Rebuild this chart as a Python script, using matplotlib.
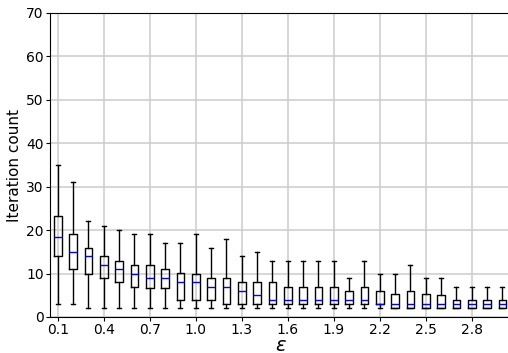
import matplotlib
matplotlib.use("Agg")
import matplotlib.pyplot as plt

eps = [round(0.1 * i, 1) for i in range(1, 31)]

# box stats (whisker low, Q1, median, Q3, whisker high)
w_low = [3, 3, 2, 2, 2, 2, 2, 2, 2, 2,
         2, 2, 2, 2, 2, 2, 2, 2, 2, 2,
         2, 2, 2, 2, 2, 2, 2, 2, 2, 2]
q1 = [14, 11, 10, 9, 8, 7, 6.7, 6.7, 4, 4,
      4, 3, 3, 3, 3, 3, 3, 3, 3, 3,
      3, 3, 2, 2, 2, 2, 2, 2, 2, 2]
med = [18.5, 15, 14, 12, 11, 10, 9, 9, 8, 8,
       7, 7, 6, 5, 4, 4, 4, 4, 4, 4,
       4, 3, 3, 3, 3, 3, 3, 3, 3, 3]
q3 = [23.3, 19, 16, 14, 13, 12, 12, 11, 10.2, 10,
      9, 9, 8, 8, 8, 7, 7, 7, 7, 6,
      7, 6, 5.3, 6, 5.3, 5, 4, 4, 4, 4]
w_high = [35, 31, 22, 21, 20, 19, 19, 17, 17, 19,
          16, 18, 14, 15, 13, 13, 13, 13, 13, 9,
          13, 10, 10, 12, 9, 9, 7, 7, 7, 7]

stats = []
for i in range(len(eps)):
    stats.append({"whislo": w_low[i], "q1": q1[i], "med": med[i],
                  "q3": q3[i], "whishi": w_high[i], "fliers": []})

fig = plt.figure(figsize=(5.08, 3.53), dpi=100)
ax = fig.add_axes([50 / 508, 36 / 353, 460 / 508, 304 / 353])

ax.bxp(stats, showfliers=False,
       medianprops=dict(color="blue", lw=1),
       boxprops=dict(color="black", lw=1),
       whiskerprops=dict(color="black", lw=1),
       capprops=dict(color="black", lw=1))

ax.set_ylim(0, 70)
ax.set_xticks(range(1, 31, 3))
ax.set_xticklabels([f"{e:.1f}" for e in eps[::3]])
ax.tick_params(axis="both", labelsize=10, length=3, pad=1.5)
ax.grid(True, color="#cccccc", lw=1.1)
ax.set_axisbelow(True)
ax.set_xlabel("ε", fontsize=14, style="italic", labelpad=-1)
ax.set_ylabel("Iteration count", fontsize=11, labelpad=3)

fig.savefig("out.png", dpi=100)
